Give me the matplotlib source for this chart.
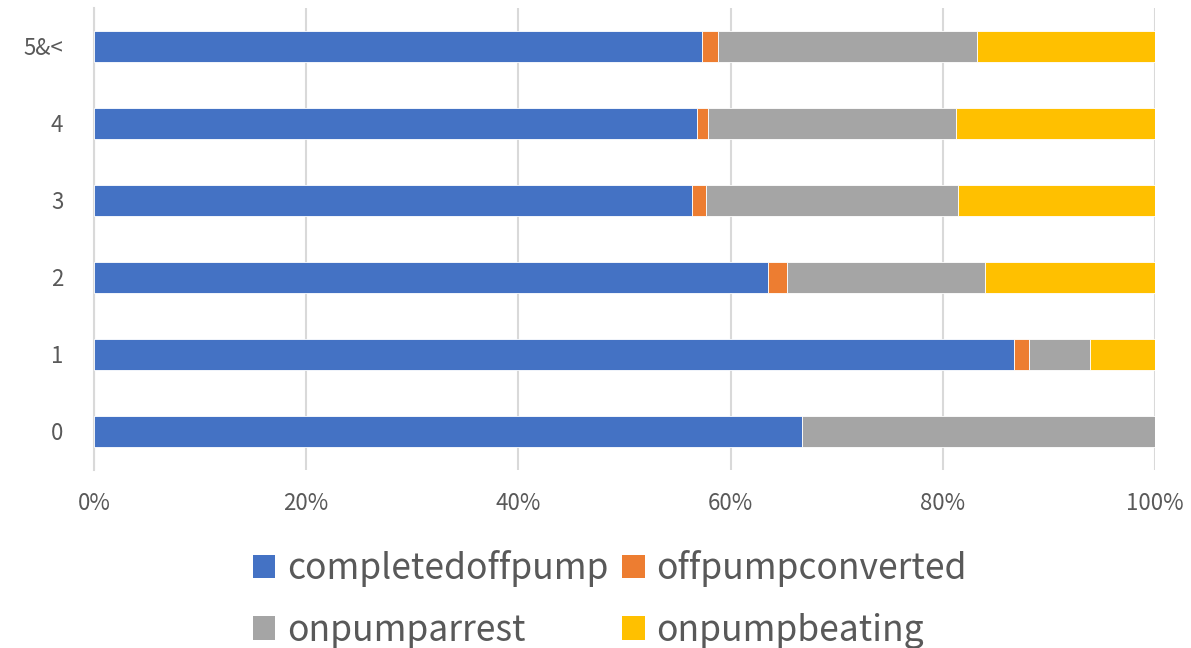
import matplotlib
matplotlib.use("Agg")
import matplotlib.pyplot as plt
import matplotlib.patches as patches
from matplotlib.ticker import PercentFormatter

plt.rcParams["font.family"] = ["Noto Sans CJK JP", "DejaVu Sans"]

# [DATA] shares in percent
categories = ["0", "1", "2", "3", "4", "5&<"]
completedoffpump = [66.7, 86.7, 63.5, 56.4, 56.8, 57.3]
offpumpconverted = [0.0, 1.4, 1.8, 1.3, 1.1, 1.5]
onpumparrest = [33.3, 5.8, 18.7, 23.7, 23.3, 24.4]
onpumpbeating = [0.0, 6.1, 16.0, 18.6, 18.8, 16.8]

series = [
    ("completedoffpump", completedoffpump, "#4472c4"),
    ("offpumpconverted", offpumpconverted, "#ed7d31"),
    ("onpumparrest", onpumparrest, "#a5a5a5"),
    ("onpumpbeating", onpumpbeating, "#ffc000"),
]

text_col = "#595959"
grid_col = "#d9d9d9"

fig = plt.figure(figsize=(11.91, 6.48), dpi=100)
ax = fig.add_axes([0.0789, 0.2747, 0.8909, 0.713])

ypos = list(range(len(categories)))
left = [0.0] * len(categories)
handles = []
for name, vals, col in series:
    ax.barh(ypos, vals, left=left, height=0.4, color=col,
            edgecolor="white", linewidth=0.6, zorder=3)
    left = [l + v for l, v in zip(left, vals)]
    handles.append(patches.Patch(facecolor=col, edgecolor="none", label=name))

ax.set_xlim(0, 100)
ax.set_ylim(-0.5, len(categories) - 0.5)
ax.set_xticks([0, 20, 40, 60, 80, 100])
ax.xaxis.set_major_formatter(PercentFormatter(decimals=0))
ax.set_yticks(ypos)
ax.set_yticklabels(categories)
ax.tick_params(axis="both", length=0, labelsize=16, colors=text_col)
ax.tick_params(axis="x", pad=16)
ax.tick_params(axis="y", pad=22)

ax.grid(axis="x", color=grid_col, linewidth=1.5, zorder=0)
for s in ["top", "right", "bottom"]:
    ax.spines[s].set_visible(False)
ax.spines["left"].set_color(grid_col)
ax.spines["left"].set_linewidth(1.5)

# legend fills row by row in the reference, so reorder for column-major fill
order = [0, 2, 1, 3]
fig.legend(handles=[handles[i] for i in order], loc="lower center",
           bbox_to_anchor=(0.512, -0.05),
           ncol=2, frameon=False, fontsize=25.5, labelcolor=text_col,
           handlelength=0.63, handleheight=0.63, handletextpad=0.32,
           columnspacing=0.4, labelspacing=0.73)

fig.savefig("out.png", dpi=100)
